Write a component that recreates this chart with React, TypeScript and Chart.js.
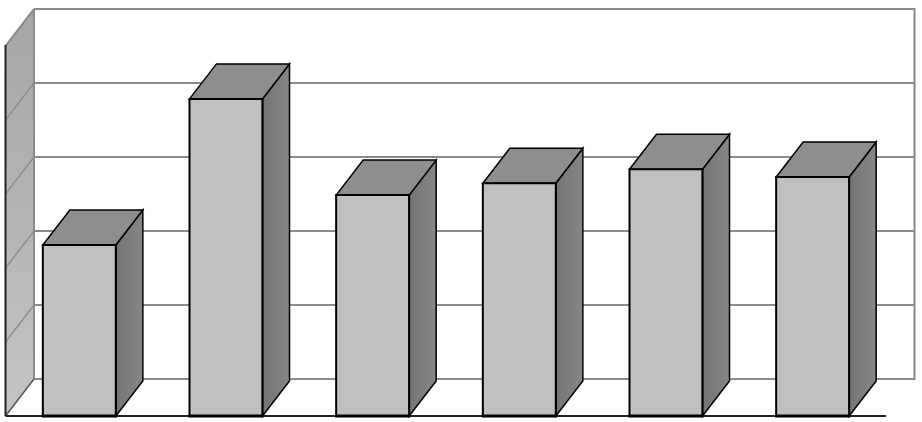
import React, { useEffect, useRef } from "react";
import { Chart, registerables } from "chart.js";

Chart.register(...registerables);

const categories = ["1", "2", "3", "4", "5", "6"];
const seriesValues = [46.2, 85.7, 59.7, 62.9, 66.7, 64.6];
const axisMax = 100;
const axisStep = 20;

const WALL = { dx: 28.5, dy: 37, inset: 0.5 };
const BAR = { dx: 27, dy: 35 };

const polygon = (ctx: CanvasRenderingContext2D, pts: number[][], fill: any, stroke: string | null, lw = 2) => {
  ctx.beginPath();
  pts.forEach(([x, y], i) => (i ? ctx.lineTo(x, y) : ctx.moveTo(x, y)));
  ctx.closePath();
  if (fill) {
    ctx.fillStyle = fill;
    ctx.fill();
  }
  if (stroke) {
    ctx.strokeStyle = stroke;
    ctx.lineWidth = lw;
    ctx.lineJoin = "miter";
    ctx.stroke();
  }
};

const line = (ctx: CanvasRenderingContext2D, x1: number, y1: number, x2: number, y2: number, color: string, lw: number) => {
  ctx.beginPath();
  ctx.moveTo(x1, y1);
  ctx.lineTo(x2, y2);
  ctx.strokeStyle = color;
  ctx.lineWidth = lw;
  ctx.stroke();
};

const box3d = {
  id: "box3d",
  beforeDatasetsDraw(chart: any) {
    const { ctx, chartArea: a, scales } = chart;
    const y = scales.y;
    const left = a.left - WALL.inset;
    const backLeft = left + WALL.dx;
    const backRight = a.right + WALL.dx;
    ctx.save();
    // left wall
    const g = ctx.createLinearGradient(0, a.top - WALL.dy, 0, a.bottom);
    g.addColorStop(0, "#a6a6a6");
    g.addColorStop(1, "#c4c4c4");
    polygon(
      ctx,
      [
        [left, a.bottom],
        [left, a.top],
        [backLeft, a.top - WALL.dy],
        [backLeft, a.bottom - WALL.dy],
      ],
      g,
      null
    );
    // grid lines on both walls, from the value scale's ticks
    y.ticks.forEach((t: any) => {
      const py = y.getPixelForValue(t.value);
      if (t.value > 0 && t.value < axisMax) {
        line(ctx, left, py, backLeft, py - WALL.dy, "#8f8f8f", 1.5);
      }
      line(ctx, backLeft, py - WALL.dy, backRight, py - WALL.dy, "#8a8a8a", 2);
    });
    line(ctx, left, a.top, backLeft, a.top - WALL.dy, "#868686", 2);
    line(ctx, backLeft, a.top - WALL.dy, backLeft, a.bottom - WALL.dy, "#8a8a8a", 2);
    line(ctx, backRight, a.top - WALL.dy - 1, backRight, a.bottom - WALL.dy + 1, "#8a8a8a", 2);
    line(ctx, left, a.bottom, backLeft, a.bottom - WALL.dy, "#555555", 1.5);
    line(ctx, left, a.top - 1, left, a.bottom, "#222222", 2);
    line(ctx, left, a.bottom, a.right, a.bottom, "#222222", 2);
    ctx.restore();
  },
  afterDatasetsDraw(chart: any) {
    const { ctx } = chart;
    ctx.save();
    chart.getDatasetMeta(0).data.forEach((bar: any) => {
      const { x, y, base, width } = bar.getProps(["x", "y", "base", "width"], true);
      const l = x - width / 2;
      const r = x + width / 2;
      const sg = ctx.createLinearGradient(r, 0, r + BAR.dx, 0);
      sg.addColorStop(0, "#747474");
      sg.addColorStop(1, "#868686");
      polygon(
        ctx,
        [
          [r, base],
          [r, y],
          [r + BAR.dx, y - BAR.dy],
          [r + BAR.dx, base - BAR.dy],
        ],
        sg,
        "#000000",
        1.5
      );
      polygon(
        ctx,
        [
          [l, y],
          [l + BAR.dx, y - BAR.dy],
          [r + BAR.dx, y - BAR.dy],
          [r, y],
        ],
        "#8e8e8e",
        "#000000",
        1.5
      );
      polygon(
        ctx,
        [
          [l, y],
          [r, y],
          [r, base],
          [l, base],
        ],
        null,
        "#000000",
        2
      );
      line(ctx, l - 1, base, r + 1, base, "#000000", 3);
    });
    ctx.restore();
  },
};

export default function App() {
  const ref = useRef<HTMLCanvasElement>(null);
  useEffect(() => {
    const chart = new Chart(ref.current!, {
      type: "bar",
      data: {
        labels: categories,
        datasets: [
          {
            data: seriesValues,
            backgroundColor: "#c0c0c0",
            borderWidth: 0,
            barThickness: 73,
          },
        ],
      },
      options: {
        responsive: false,
        animation: false,
        layout: { padding: { left: 6, right: 36, top: 46, bottom: 6 } },
        plugins: { legend: { display: false }, tooltip: { enabled: false } },
        scales: {
          x: { display: false, grid: { display: false } },
          y: {
            display: false,
            min: 0,
            max: axisMax,
            ticks: { stepSize: axisStep },
            grid: { display: false },
          },
        },
      },
      plugins: [box3d],
    });
    return () => chart.destroy();
  }, []);
  return (
    <canvas
      ref={ref}
      width={922}
      height={422}
      style={{ position: "absolute", left: 0, top: 0, display: "block", background: "#fff" }}
    />
  );
}
